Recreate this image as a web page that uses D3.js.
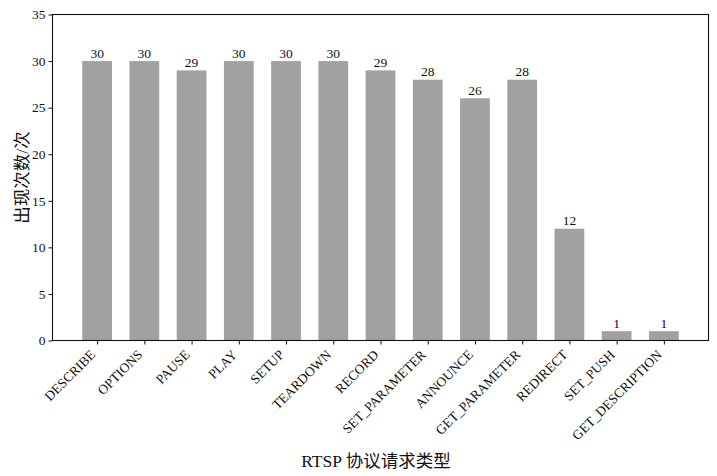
<!DOCTYPE html>
<html><head><meta charset="utf-8">
<script src="https://cdn.jsdelivr.net/npm/d3@7"></script>
<style>
body{margin:0;background:#fff}
svg{display:block}
svg text{font-family:"Liberation Serif","Times New Roman",serif}
svg text.cjk{font-family:"Liberation Serif","Noto Sans CJK SC",serif}
</style>
</head><body>
<script>
const categories = ["DESCRIBE","OPTIONS","PAUSE","PLAY","SETUP","TEARDOWN","RECORD","SET_PARAMETER","ANNOUNCE","GET_PARAMETER","REDIRECT","SET_PUSH","GET_DESCRIPTION"];
const counts = [30,30,29,30,30,30,29,28,26,28,12,1,1];
const yTicks = [0,5,10,15,20,25,30,35];
const xTitle = "RTSP 协议请求类型";
const yTitle = "出现次数/次";

const W = 717, H = 476;
const L = 52.5, R = 708.5, T = 14.5, B = 340.5;

const svg = d3.select("body").append("svg").attr("width", W).attr("height", H);
const x = d3.scaleLinear().domain([-0.945, categories.length - 1 + 0.945]).range([L, R]);
const y = d3.scaleLinear().domain([0, 35]).range([B, T]);
const bw = 0.63;

svg.append("g").selectAll("rect").data(counts).join("rect")
  .attr("x", (d,i) => x(i - bw/2)).attr("width", x(bw) - x(0))
  .attr("y", d => y(d)).attr("height", d => y(0) - y(d))
  .attr("fill", "#a0a1a0");

svg.append("g").selectAll("text").data(counts).join("text")
  .attr("x", (d,i) => x(i)).attr("y", d => y(d) - 3.5)
  .attr("text-anchor", "middle").attr("font-size", 13.5)
  .attr("fill", "#111").text(d => d);

// frame
svg.append("rect").attr("x", L).attr("y", T).attr("width", R - L).attr("height", B - T)
  .attr("fill", "none").attr("stroke", "#111").attr("stroke-width", 1.1);

const yAxis = svg.append("g").attr("transform", `translate(${L},0)`)
  .call(d3.axisLeft(y).tickValues(yTicks).tickSize(4).tickPadding(3));
yAxis.attr("font-family", null).attr("font-size", null);
yAxis.select(".domain").remove();
yAxis.selectAll("text").attr("font-size", 13.5).attr("fill", "#111");
yAxis.selectAll("line").attr("stroke", "#111");

const xAxis = svg.append("g").attr("transform", `translate(0,${B})`)
  .call(d3.axisBottom(x).tickValues(d3.range(categories.length)).tickFormat(i => categories[i]).tickSize(4));
xAxis.attr("font-family", null).attr("font-size", null);
xAxis.select(".domain").remove();
xAxis.selectAll("line").attr("stroke", "#111");
xAxis.selectAll("text").attr("font-size", 13.5).attr("fill", "#111")
  .attr("text-anchor", "end").attr("dy", null).attr("y", 0)
  .attr("transform", "translate(-1.5,15) rotate(-45)");

svg.append("text").attr("class", "cjk").attr("x", 376).attr("y", 467)
  .attr("text-anchor", "middle").attr("font-size", 17.5)
  .attr("fill", "#111").text(xTitle);

svg.append("text").attr("class", "cjk").attr("transform", `translate(28,${(T + B) / 2}) rotate(-90)`)
  .attr("text-anchor", "middle").attr("font-size", 17.5)
  .attr("fill", "#111").text(yTitle);
</script>
</body></html>
